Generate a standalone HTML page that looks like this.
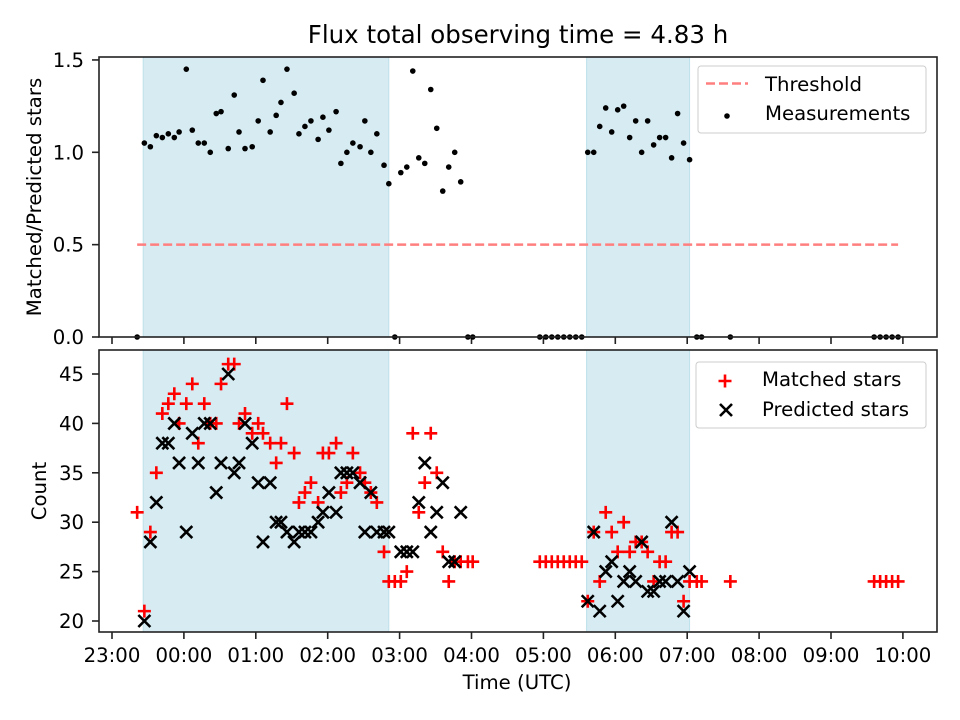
<!DOCTYPE html>
<html><head><meta charset="utf-8"><style>
html,body{margin:0;padding:0;background:#fff;}
svg{display:block;font-family:"DejaVu Sans","Liberation Sans",sans-serif;}
</style></head><body>
<svg id="chart" width="960" height="720" viewBox="0 0 960 720" xmlns="http://www.w3.org/2000/svg">
<rect width="960" height="720" fill="#fff"/>
<text x="518" y="43" font-size="24.5" text-anchor="middle">Flux total observing time = 4.83 h</text>
<g id="top"></g><g id="bot"></g>
</svg>
<script>
// times in minutes after 23:00
const ratioTimes=[21,27,32,37,42,47,52,56,62,67,72,77,82,87,91,97,102,106,111,117,122,126,132,137,141,146,152,156,161,166,172,176,181,187,191,196,201,207,211,216,221,227,231,236,241,246,251,256,261,266,271,276,281,286,291,297,301,357,362,367,372,377,382,387,392,397,402,407,412,417,422,427,432,437,442,447,452,457,462,467,472,477,482,488,492,516,636,641,646,651,656];
const ratioValues=[0,1.05,1.03,1.09,1.08,1.10,1.08,1.11,1.45,1.12,1.05,1.05,1.00,1.21,1.22,1.02,1.31,1.11,1.02,1.03,1.17,1.39,1.11,1.20,1.27,1.45,1.32,1.10,1.14,1.17,1.07,1.19,1.12,1.22,0.94,1.00,1.05,1.03,1.17,1.00,1.10,0.93,0.83,0,0.89,0.92,1.44,0.97,0.94,1.34,1.13,0.79,0.92,1.00,0.84,0,0,0,0,0,0,0,0,0,0,1.00,1.00,1.14,1.24,1.11,1.23,1.25,1.08,1.17,1.00,1.17,1.04,1.08,1.08,0.97,1.21,1.05,0.96,0,0,0,0,0,0,0,0];
const matchedStars=[31,21,29,35,41,42,43,40,42,44,38,42,40,40,44,46,46,40,41,39,40,39,38,36,38,42,37,32,33,34,32,37,37,38,33,34,37,35,34,33,32,27,24,24,24,25,39,31,34,39,35,27,24,26,26,26,26,26,26,26,26,26,26,26,26,22,29,24,31,29,27,30,27,28,28,27,24,26,26,29,29,22,24,24,24,24,24,24,24,24,24];
const predictedStars=[null,20,28,32,38,38,40,36,29,39,36,40,40,33,36,45,35,36,40,38,34,28,34,30,30,29,28,29,29,29,30,31,33,31,35,35,35,34,29,33,29,29,29,null,27,27,27,32,36,29,31,34,26,26,31,null,null,null,null,null,null,null,null,null,null,22,29,21,25,26,22,24,25,24,28,23,23,24,24,30,24,21,25,null,null,null,null,null,null,null,null];
const shadedSpans=[[26,231],[396,482]];
const thresholdValue=0.5;
const xTickLabels=["23:00","00:00","01:00","02:00","03:00","04:00","05:00","06:00","07:00","08:00","09:00","10:00"];
const topTicks=[0,0.5,1.0,1.5];
const botTicks=[20,25,30,35,40,45];

const NS="http://www.w3.org/2000/svg";
const L=99,R=937;
const FS=19.7;
const xs=m=>112+m*71.9/60;
const yTop=v=>337-v*184.7;
const yBot=c=>621-(c-20)*9.88;
function el(p,tag,at){const e=document.createElementNS(NS,tag);for(const k in at)e.setAttribute(k,at[k]);p.appendChild(e);return e;}

function axes(g,top,bottom,yTicks,yf,fmt,label,showXLabels,name){
  shadedSpans.forEach(s=>{
    const r=el(g,'rect',{x:xs(s[0]),y:top,width:xs(s[1])-xs(s[0]),height:bottom-top,fill:'#add8e6','fill-opacity':0.5,stroke:'#add8e6','stroke-opacity':0.7});
    
    
  });
  yTicks.forEach(v=>{
    const y=yf(v);
    el(g,'line',{x1:L-7,x2:L,y1:y,y2:y,stroke:'#222','stroke-width':1.6});
    const t=el(g,'text',{x:L-15,y:y+7,'font-size':FS,'text-anchor':'end'});t.textContent=fmt(v);
    
    
  });
  xTickLabels.forEach((lab,i)=>{
    const x=xs(i*60);
    el(g,'line',{x1:x,x2:x,y1:bottom,y2:bottom+7,stroke:'#222','stroke-width':1.6});
    if(showXLabels){const t=el(g,'text',{x:x,y:662,'font-size':FS,'text-anchor':'middle'});t.textContent=lab;
      
      }
  });
  const cy=(top+bottom)/2;
  const yl=el(g,'text',{x:0,y:0,'font-size':FS,'text-anchor':'middle',transform:`translate(${name==='top'?41:46},${cy}) rotate(-90)`});yl.textContent=label;
  
  
}

const gt=document.getElementById('top');
axes(gt,57,337,topTicks,yTop,v=>v.toFixed(1),'Matched/Predicted stars',false,'top');
const thr=el(gt,'line',{x1:xs(ratioTimes[0]),x2:xs(ratioTimes[ratioTimes.length-1]),y1:yTop(thresholdValue),y2:yTop(thresholdValue),stroke:'#ff7f7f','stroke-width':2.5,'stroke-dasharray':'9,4'});


ratioTimes.forEach((t,i)=>{
  const c=el(gt,'circle',{cx:xs(t),cy:yTop(ratioValues[i]),r:2.8,fill:'#000'});
  
  
});
el(gt,'rect',{x:L,y:57,width:R-L,height:280,fill:'none',stroke:'#222','stroke-width':1.6});
const lg1=el(gt,'g',{});


el(lg1,'rect',{x:698,y:66,width:228,height:67,rx:3,fill:'#fff','fill-opacity':0.8,stroke:'#ccc'});
el(lg1,'line',{x1:706,x2:748,y1:83.5,y2:83.5,stroke:'#ff7f7f','stroke-width':2.5,'stroke-dasharray':'9,4'});
let t1=el(lg1,'text',{x:765,y:91,'font-size':FS});t1.textContent='Threshold';
el(lg1,'circle',{cx:727,cy:116,r:2.8,fill:'#000'});
let t2=el(lg1,'text',{x:765,y:120,'font-size':FS});t2.textContent='Measurements';

const gb=document.getElementById('bot');
axes(gb,350,632,botTicks,yBot,v=>String(v),'Count',true,'bot');
function plus(g,x,y){const p=el(g,'path',{d:`M${x-6.5},${y}H${x+6.5}M${x},${y-6.5}V${y+6.5}`,stroke:'#ff0000','stroke-width':2.6,fill:'none'});return p;}
function cross(g,x,y){const p=el(g,'path',{d:`M${x-6},${y-6}L${x+6},${y+6}M${x-6},${y+6}L${x+6},${y-6}`,stroke:'#000','stroke-width':2.6,fill:'none'});return p;}
ratioTimes.forEach((t,i)=>{
  if(matchedStars[i]!=null){const p=plus(gb,xs(t),yBot(matchedStars[i]));
    
    }
});
ratioTimes.forEach((t,i)=>{
  if(predictedStars[i]!=null){const p=cross(gb,xs(t),yBot(predictedStars[i]));
    
    }
});
el(gb,'rect',{x:L,y:350,width:R-L,height:282,fill:'none',stroke:'#222','stroke-width':1.6});
const xl=el(gb,'text',{x:517,y:689,'font-size':FS,'text-anchor':'middle'});xl.textContent='Time (UTC)';


const lg2=el(gb,'g',{});


el(lg2,'rect',{x:696,y:362,width:230,height:66,rx:3,fill:'#fff','fill-opacity':0.8,stroke:'#ccc'});
plus(lg2,725,381);
let t3=el(lg2,'text',{x:762,y:386,'font-size':FS});t3.textContent='Matched stars';
cross(lg2,726,410);
let t4=el(lg2,'text',{x:762,y:416,'font-size':FS});t4.textContent='Predicted stars';
</script>
</body></html>
